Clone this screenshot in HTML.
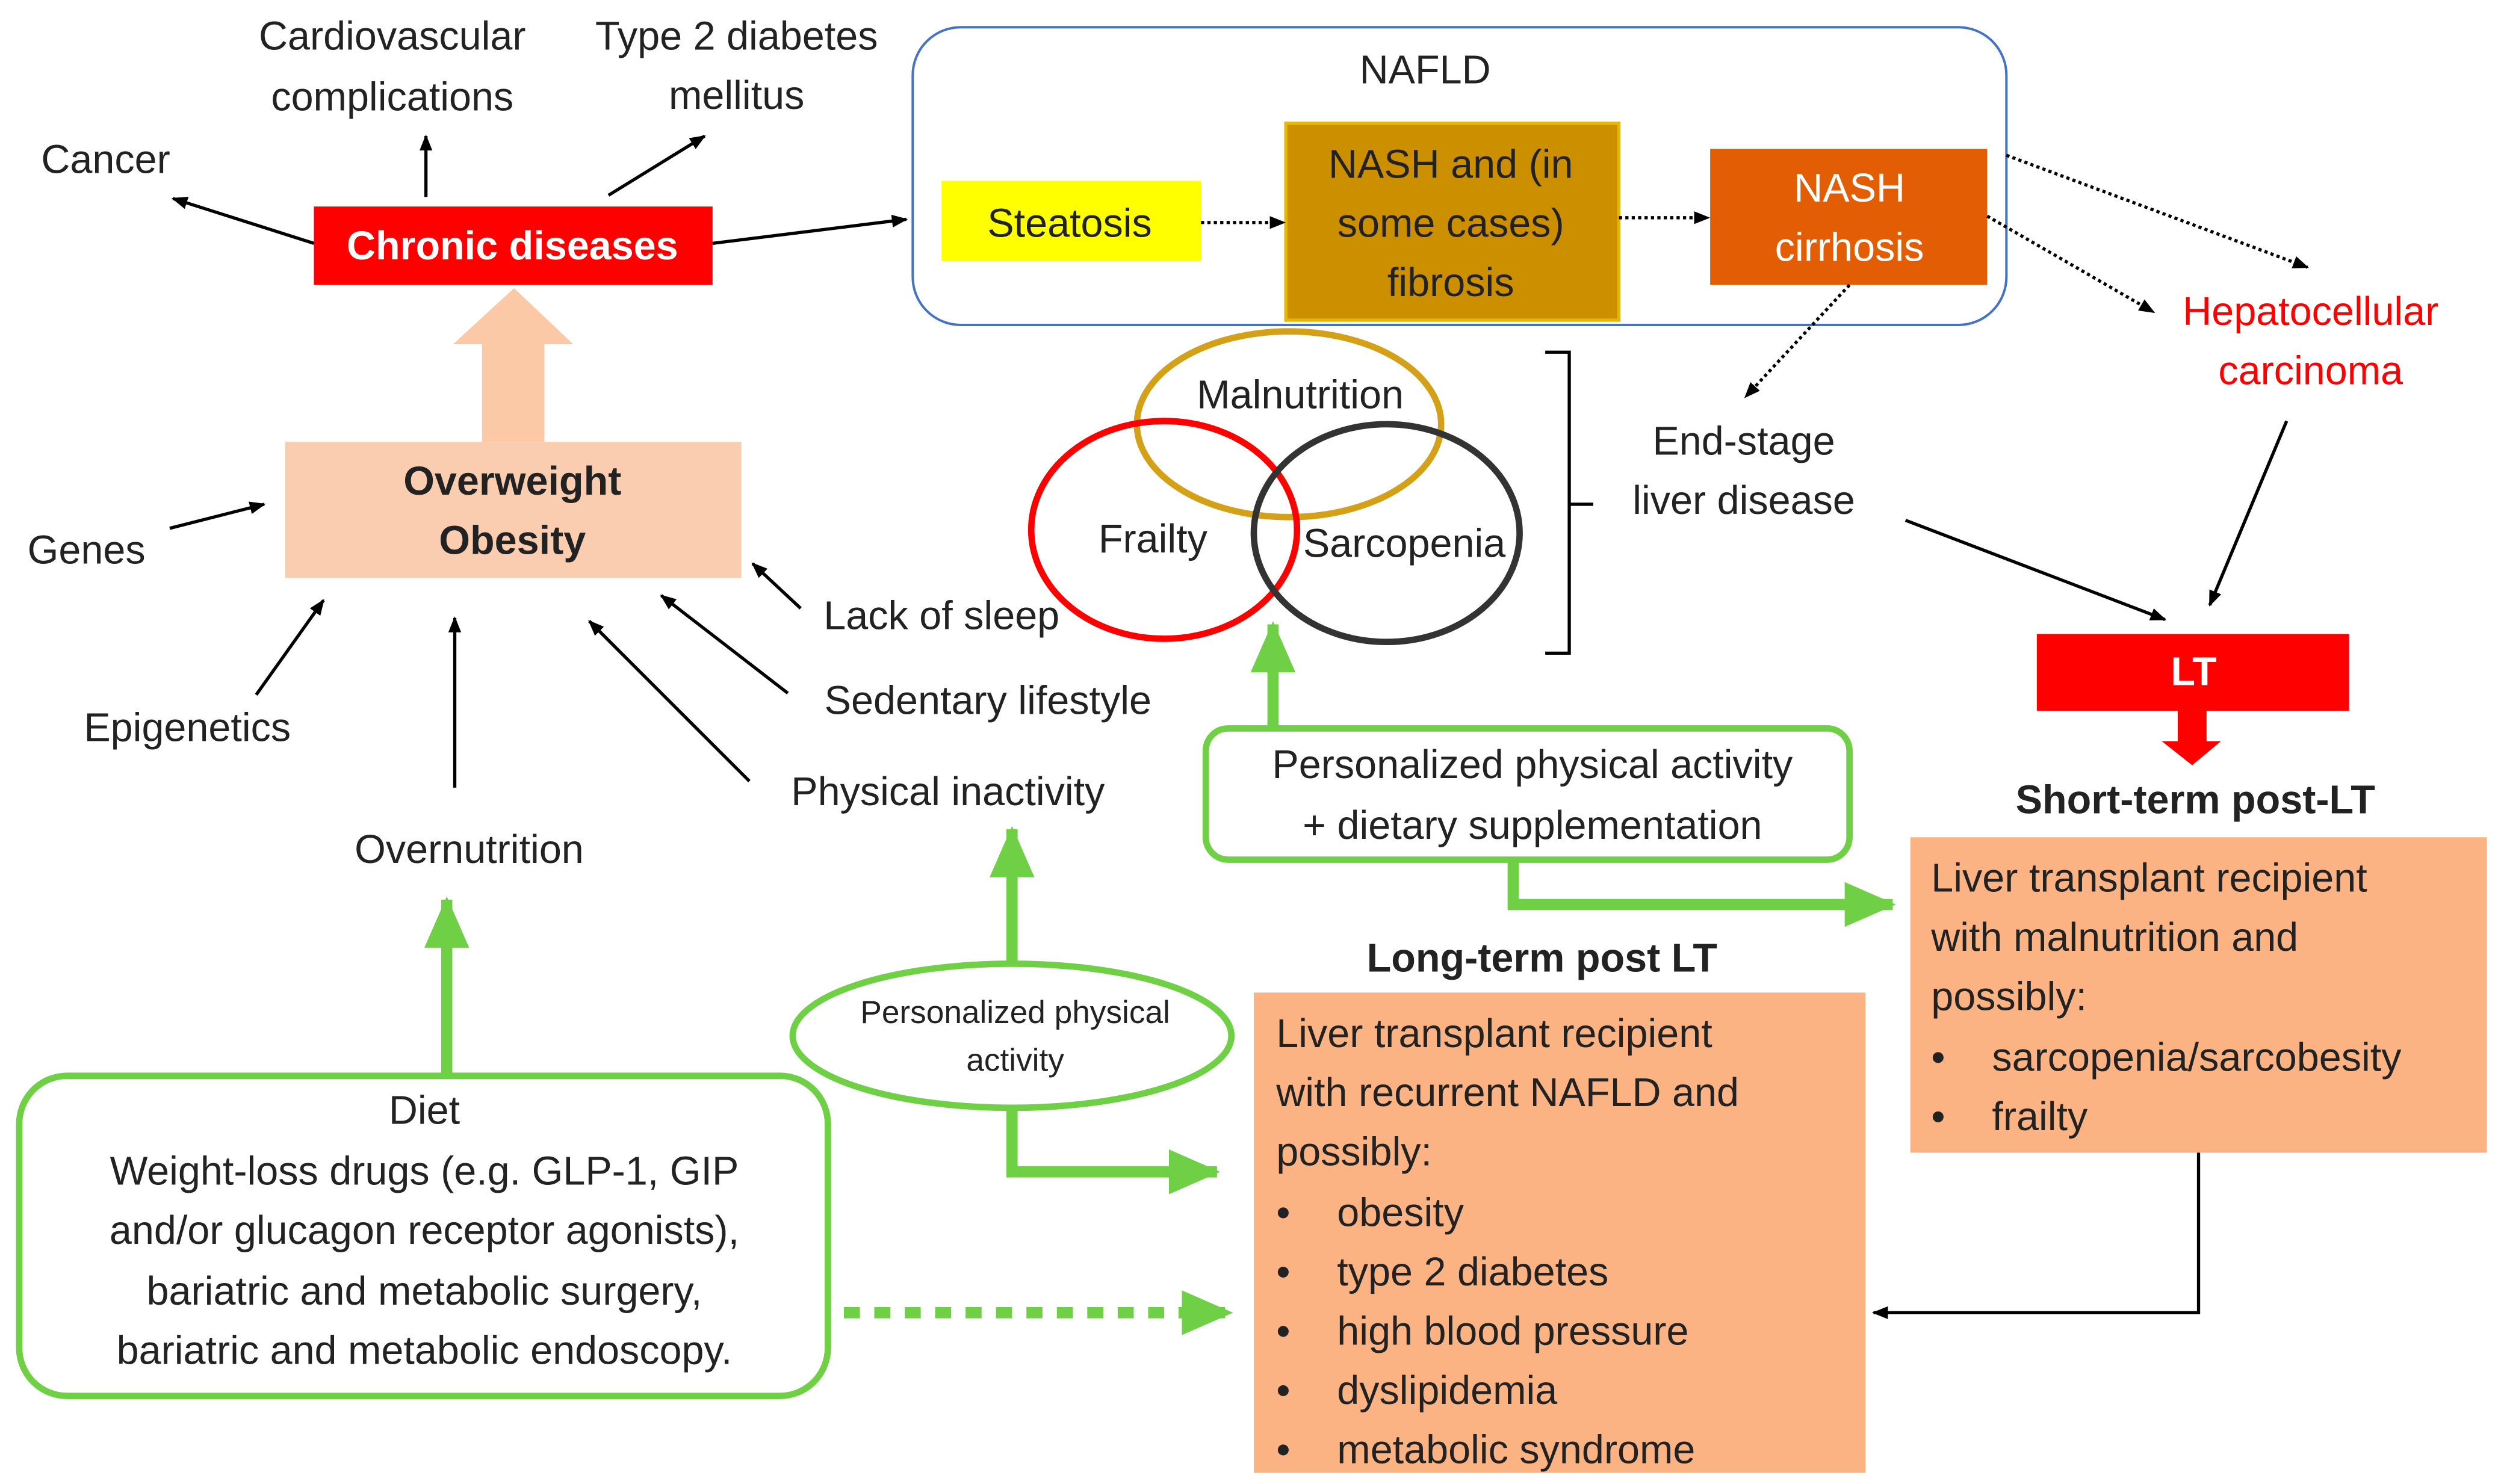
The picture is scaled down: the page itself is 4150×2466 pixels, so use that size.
<!DOCTYPE html>
<html><head><meta charset="utf-8"><style>
html,body{margin:0;padding:0;background:#fff;}
svg{display:block;}
text{font-family:"Liberation Sans",sans-serif;font-size:25px;fill:#222;}
</style></head><body>
<svg width="4150" height="2466" viewBox="0 0 1560 927" preserveAspectRatio="none" xmlns="http://www.w3.org/2000/svg">
<defs>
<marker id="a" markerWidth="10" markerHeight="10" refX="9" refY="5" orient="auto" markerUnits="userSpaceOnUse"><path d="M0,1 L10,5 L0,9 z" fill="#000"/></marker>
<marker id="g" markerWidth="32" markerHeight="32" refX="30" refY="16" orient="auto" markerUnits="userSpaceOnUse"><path d="M0,2 L32,16 L0,30 z" fill="#6fcf45"/></marker>
</defs>
<rect width="1560" height="927" fill="#fff"/>
<!-- NAFLD -->
<rect x="570" y="17" width="683" height="186" rx="30" fill="none" stroke="#4472c4" stroke-width="1.5"/>
<text x="890" y="52" text-anchor="middle">NAFLD</text>
<rect x="588" y="113" width="162" height="50" fill="#ffff00"/>
<text x="668" y="148" text-anchor="middle">Steatosis</text>
<rect x="803" y="77" width="208" height="123" fill="#cc8f00" stroke="#e8b800" stroke-width="2"/>
<text x="906" y="111" text-anchor="middle">NASH and (in</text>
<text x="906" y="148" text-anchor="middle">some cases)</text>
<text x="906" y="185" text-anchor="middle">fibrosis</text>
<rect x="1068" y="93" width="173" height="85" fill="#e35d05"/>
<text x="1155" y="126" text-anchor="middle" style="fill:#fff">NASH</text>
<text x="1155" y="163" text-anchor="middle" style="fill:#fff">cirrhosis</text>
<g stroke="#000" stroke-width="2" stroke-dasharray="2,2" fill="none" marker-end="url(#a)">
<line x1="750" y1="139" x2="802" y2="139"/>
<line x1="1011" y1="136" x2="1067" y2="136"/>
<line x1="1253" y1="97" x2="1441" y2="167"/>
<line x1="1241" y1="135" x2="1345" y2="195"/>
<line x1="1155" y1="178" x2="1090" y2="248"/>
</g>
<text x="1443" y="203" text-anchor="middle" style="fill:#ff0000">Hepatocellular</text>
<text x="1443" y="240" text-anchor="middle" style="fill:#ff0000">carcinoma</text>
<!-- Chronic -->
<rect x="196" y="129" width="249" height="49" fill="#ff0000"/>
<text x="320" y="162" text-anchor="middle" style="fill:#fff;font-weight:bold">Chronic diseases</text>
<g stroke="#000" stroke-width="2" fill="none" marker-end="url(#a)">
<line x1="445" y1="152" x2="566" y2="137"/>
<line x1="196" y1="152" x2="108" y2="124"/>
<line x1="266" y1="123" x2="266" y2="85"/>
<line x1="380" y1="122" x2="440" y2="85"/>
<line x1="106" y1="330" x2="165" y2="315"/>
<line x1="160" y1="434" x2="202" y2="375"/>
<line x1="284" y1="492" x2="284" y2="386"/>
<line x1="468" y1="488" x2="368" y2="388"/>
<line x1="492" y1="433" x2="413" y2="372"/>
<line x1="500" y1="380" x2="470" y2="352"/>
<line x1="1190" y1="325" x2="1352" y2="387"/>
<line x1="1428" y1="263" x2="1380" y2="378"/>
<polyline points="1373,720 1373,820 1170,820"/>
</g>
<text x="66" y="108" text-anchor="middle">Cancer</text>
<text x="245" y="31" text-anchor="middle">Cardiovascular</text>
<text x="245" y="69" text-anchor="middle">complications</text>
<text x="460" y="31" text-anchor="middle">Type 2 diabetes</text>
<text x="460" y="68" text-anchor="middle">mellitus</text>
<!-- peach arrow -->
<path d="M301,276 L301,215 L283,215 L321,180 L358,215 L340,215 L340,276 z" fill="#fbc9a6"/>
<rect x="178" y="276" width="285" height="85" fill="#fbcdb0"/>
<text x="320" y="309" text-anchor="middle" style="font-weight:bold">Overweight</text>
<text x="320" y="346" text-anchor="middle" style="font-weight:bold">Obesity</text>
<text x="54" y="352" text-anchor="middle">Genes</text>
<text x="117" y="463" text-anchor="middle">Epigenetics</text>
<text x="293" y="539" text-anchor="middle">Overnutrition</text>
<text x="592" y="503" text-anchor="middle">Physical inactivity</text>
<text x="617" y="446" text-anchor="middle">Sedentary lifestyle</text>
<text x="588" y="393" text-anchor="middle">Lack of sleep</text>
<!-- Diet -->
<g stroke="#6fcf45" stroke-width="7" fill="none">
<line x1="279" y1="672" x2="279" y2="562" marker-end="url(#g)"/>
<line x1="632" y1="602" x2="632" y2="518" marker-end="url(#g)"/>
<polyline points="632,692 632,732 760,732" marker-end="url(#g)"/>
<line x1="795" y1="455" x2="795" y2="390" marker-end="url(#g)"/>
<polyline points="945,537 945,565 1182,565" marker-end="url(#g)"/>
<line x1="527" y1="820" x2="768" y2="820" stroke-dasharray="10,9" marker-end="url(#g)"/>
</g>
<rect x="12" y="672" width="505" height="200" rx="30" fill="#fff" stroke="#6fcf45" stroke-width="4"/>
<text x="265" y="702" text-anchor="middle">Diet</text>
<text x="265" y="740" text-anchor="middle">Weight-loss drugs (e.g. GLP-1, GIP</text>
<text x="265" y="777" text-anchor="middle">and/or glucagon receptor agonists),</text>
<text x="265" y="815" text-anchor="middle">bariatric and metabolic surgery,</text>
<text x="265" y="852" text-anchor="middle">bariatric and metabolic endoscopy.</text>
<ellipse cx="632" cy="647" rx="137" ry="45" fill="#fff" stroke="#6fcf45" stroke-width="4"/>
<text x="634" y="639" text-anchor="middle" style="font-size:20px">Personalized physical</text>
<text x="634" y="669" text-anchor="middle" style="font-size:20px">activity</text>
<!-- Venn -->
<ellipse cx="805" cy="265" rx="95" ry="58" fill="none" stroke="#d4a017" stroke-width="4"/>
<ellipse cx="727" cy="331" rx="83" ry="68" fill="none" stroke="#ff0000" stroke-width="4"/>
<ellipse cx="866" cy="333" rx="83" ry="68" fill="none" stroke="#333" stroke-width="4"/>
<text x="812" y="255" text-anchor="middle">Malnutrition</text>
<text x="720" y="345" text-anchor="middle">Frailty</text>
<text x="877" y="348" text-anchor="middle">Sarcopenia</text>
<polyline points="965,220 980,220 980,408 965,408" fill="none" stroke="#000" stroke-width="2"/>
<line x1="980" y1="315" x2="995" y2="315" stroke="#000" stroke-width="2"/>
<text x="1089" y="284" text-anchor="middle">End-stage</text>
<text x="1089" y="321" text-anchor="middle">liver disease</text>
<!-- LT -->
<rect x="1272" y="396" width="195" height="48" fill="#ff0000"/>
<text x="1370" y="428" text-anchor="middle" style="fill:#fff;font-weight:bold">LT</text>
<path d="M1360,444 L1378,444 L1378,463 L1387,463 L1369,478 L1350,463 L1360,463 z" fill="#ff0000"/>
<text x="1371" y="508" text-anchor="middle" style="font-weight:bold">Short-term post-LT</text>
<rect x="1193" y="523" width="360" height="197" fill="#fcb383"/>
<text x="1206" y="557">Liver transplant recipient</text>
<text x="1206" y="594">with malnutrition and</text>
<text x="1206" y="631">possibly:</text>
<text x="1206" y="669">•</text><text x="1244" y="669">sarcopenia/sarcobesity</text>
<text x="1206" y="706">•</text><text x="1244" y="706">frailty</text>
<!-- personalized box -->
<rect x="753" y="455" width="402" height="82" rx="14" fill="#fff" stroke="#6fcf45" stroke-width="4"/>
<text x="957" y="486" text-anchor="middle">Personalized physical activity</text>
<text x="957" y="524" text-anchor="middle">+ dietary supplementation</text>
<text x="963" y="607" text-anchor="middle" style="font-weight:bold">Long-term post LT</text>
<rect x="783" y="620" width="382" height="300" fill="#fcb383"/>
<text x="797" y="654">Liver transplant recipient</text>
<text x="797" y="691">with recurrent NAFLD and</text>
<text x="797" y="728">possibly:</text>
<text x="797" y="766">•</text><text x="835" y="766">obesity</text>
<text x="797" y="803">•</text><text x="835" y="803">type 2 diabetes</text>
<text x="797" y="840">•</text><text x="835" y="840">high blood pressure</text>
<text x="797" y="877">•</text><text x="835" y="877">dyslipidemia</text>
<text x="797" y="914">•</text><text x="835" y="914">metabolic syndrome</text>
</svg>
</body></html>
